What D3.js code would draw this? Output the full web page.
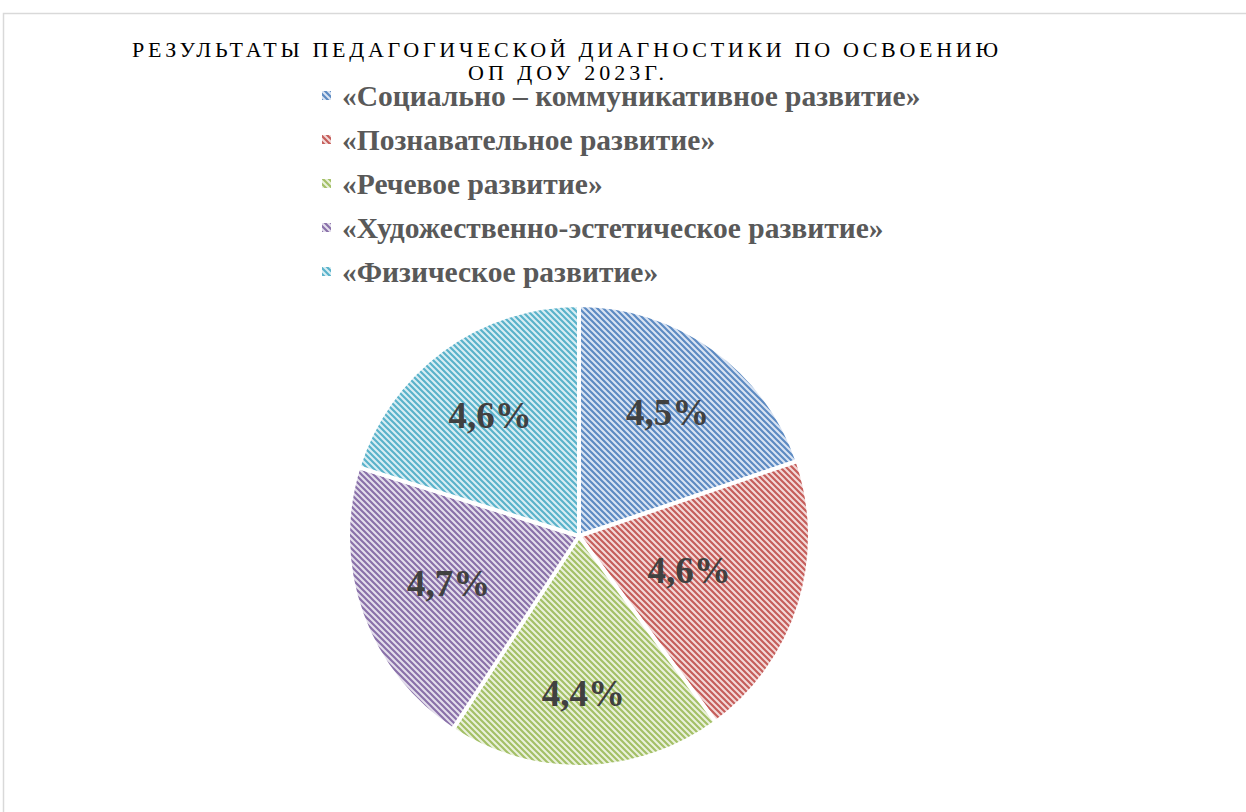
<!DOCTYPE html>
<html>
<head>
<meta charset="utf-8">
<script src="https://cdn.jsdelivr.net/npm/d3@7"></script>
<style>
  html, body { margin: 0; padding: 0; background: #fff; }
  svg { display: block; }
</style>
</head>
<body>
<svg id="chart" width="1246" height="812"></svg>
<script>
// ---- Data ----
const titleLines = ["РЕЗУЛЬТАТЫ ПЕДАГОГИЧЕСКОЙ ДИАГНОСТИКИ ПО ОСВОЕНИЮ", "ОП ДОУ 2023Г."];
const categories = [
  "«Социально – коммуникативное развитие»",
  "«Познавательное развитие»",
  "«Речевое развитие»",
  "«Художественно-эстетическое развитие»",
  "«Физическое развитие»"
];
const values = [4.5, 4.6, 4.4, 4.7, 4.6];
const valueLabels = ["4,5%", "4,6%", "4,4%", "4,7%", "4,6%"];

// ---- Styles / layout ----
const lineColors = ["#4f81bd", "#c0504d", "#9bbb59", "#8064a2", "#4bacc6"];
const bgColors = ["#dae4f3", "#f3dad9", "#eaf1dc", "#e4dfec", "#d9eef4"];
const labelRadiusFactor = [0.66, 0.5, 0.68, 0.6, 0.65];

const svg = d3.select("#chart");
const cx = 579, cy = 536, R = 231;

// chart border
svg.append("rect")
  .attr("x", 3.5).attr("y", 13.5)
  .attr("width", 1300).attr("height", 900)
  .attr("fill", "#fff").attr("stroke", "#d9d9d9").attr("stroke-width", 1.5);

// patterns
const defs = svg.append("defs");
categories.forEach((c, i) => {
  const p = defs.append("pattern")
    .attr("id", "pat" + i)
    .attr("patternUnits", "userSpaceOnUse")
    .attr("width", 6).attr("height", 6);
  p.append("rect").attr("width", 6).attr("height", 6).attr("fill", bgColors[i]);
  p.append("path")
    .attr("d", "M-1,-1 L7,7 M-1,5 L1,7 M5,-1 L7,1")
    .attr("stroke", lineColors[i])
    .attr("stroke-width", 2.2)
    .attr("stroke-opacity", 0.9);
});

// title
const title = svg.append("text")
  .attr("font-family", "'Liberation Serif', 'Times New Roman', serif")
  .attr("font-size", 22)
  .attr("fill", "#000")
  .attr("text-anchor", "middle");
title.append("tspan").attr("x", 565).attr("y", 57)
  .attr("textLength", 866).attr("lengthAdjust", "spacing")
  .text(titleLines[0]);
title.append("tspan").attr("x", 566).attr("y", 80)
  .attr("textLength", 196).attr("lengthAdjust", "spacing")
  .text(titleLines[1]);

// legend
const legendY = d3.scalePoint().domain(d3.range(categories.length)).range([96, 272]);
const legend = svg.append("g");
categories.forEach((c, i) => {
  const y = legendY(i);
  legend.append("rect")
    .attr("x", 322).attr("y", y - 5)
    .attr("width", 9).attr("height", 9)
    .attr("fill", "url(#pat" + i + ")");
  legend.append("text")
    .attr("x", 342).attr("y", y + 10)
    .attr("font-family", "'Liberation Serif', 'Times New Roman', serif")
    .attr("font-weight", "bold")
    .attr("font-size", 29.5)
    .attr("fill", "#595959")
    .text(c);
});

// pie
const pie = d3.pie().sort(null).value(d => d)(values);
const arc = d3.arc().innerRadius(0).outerRadius(R);
const g = svg.append("g").attr("transform", `translate(${cx},${cy})`);
g.selectAll("path.slice").data(pie).enter().append("path")
  .attr("class", "slice")
  .attr("d", arc)
  .attr("fill", (d, i) => "url(#pat" + i + ")")
  .attr("stroke", "#fff")
  .attr("stroke-width", 4)
  .attr("stroke-linejoin", "round");

g.selectAll("text.lbl").data(pie).enter().append("text")
  .attr("class", "lbl")
  .attr("transform", (d, i) => {
    const r = R * labelRadiusFactor[i];
    const c = d3.arc().innerRadius(r).outerRadius(r).centroid(d);
    return `translate(${c[0]},${c[1]})`;
  })
  .attr("text-anchor", "middle")
  .attr("dy", "0.35em")
  .attr("font-family", "'Liberation Serif', 'Times New Roman', serif")
  .attr("font-weight", "bold")
  .attr("font-size", 37)
  .attr("fill", "#404040")
  .text((d, i) => valueLabels[i]);
</script>
</body>
</html>
